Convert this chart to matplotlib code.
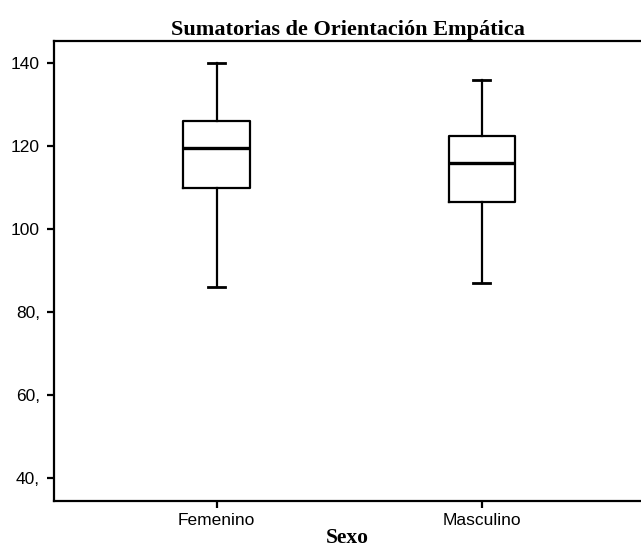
import matplotlib
matplotlib.use("Agg")
import matplotlib.pyplot as plt

# Summary stats per group (min, Q1, median, Q3, max)
groups = ["Femenino", "Masculino"]
whisker_low = [86.0, 87.0]
q1 = [110.0, 106.5]
medians = [119.5, 116.0]
q3 = [126.0, 122.5]
whisker_high = [140.0, 136.0]

yticks = [40, 60, 80, 100, 120, 140]
ytick_labels = ["40,", "60,", "80,", "100", "120", "140"]

stats = [
    dict(label=g, whislo=lo, q1=a, med=m, q3=b, whishi=hi, fliers=[])
    for g, lo, a, m, b, hi in zip(groups, whisker_low, q1, medians, q3, whisker_high)
]

fig = plt.figure(figsize=(6.41, 5.47), dpi=100)
ax = fig.add_axes([0.0842, 0.0841, 0.9158, 0.8409])

ax.bxp(
    stats,
    positions=[1, 2],
    widths=0.25,
    showfliers=False,
    boxprops=dict(color="black", linewidth=1.6),
    whiskerprops=dict(color="black", linewidth=1.6),
    capprops=dict(color="black", linewidth=2.0),
    medianprops=dict(color="black", linewidth=2.4),
    capwidths=0.065,
)

ax.set_xlim(0.387, 2.6)
ax.set_ylim(34.4, 145.4)
ax.set_yticks(yticks)
ax.set_yticklabels(ytick_labels)
ax.set_xticks([1, 2])
ax.set_xticklabels(groups)

for side in ["left", "bottom", "top"]:
    ax.spines[side].set_linewidth(1.6)
ax.spines["right"].set_visible(False)

ax.tick_params(axis="both", direction="out", length=5, width=1.6, labelsize=12.5)
ax.tick_params(axis="y", pad=5)
ax.tick_params(axis="x", pad=4)
for lab in ax.get_xticklabels() + ax.get_yticklabels():
    lab.set_fontfamily("Liberation Sans")

ax.set_title("Sumatorias de Orientación Empática", fontfamily="Liberation Serif",
             fontweight="bold", fontsize=16, pad=4)
ax.set_xlabel("Sexo", fontfamily="Liberation Serif", fontweight="bold",
              fontsize=15.5, labelpad=-0.5)

fig.savefig("out.png", dpi=100)
